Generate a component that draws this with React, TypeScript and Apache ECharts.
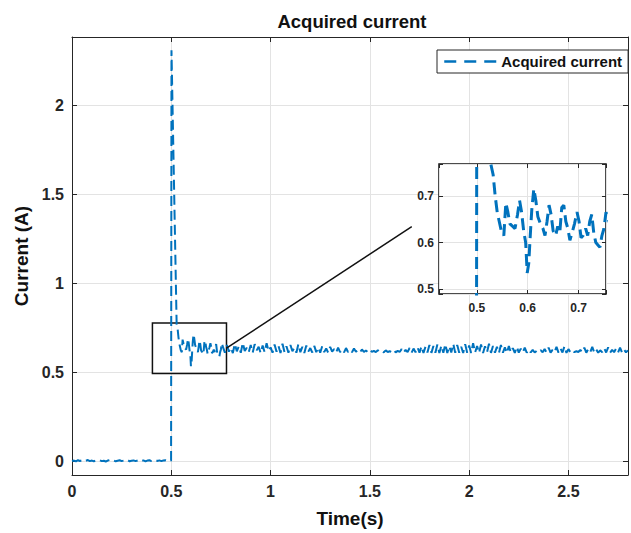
import React, { useEffect, useRef } from "react";
import * as echarts from "echarts";

// ---------------- data ----------------
const SAMPLE_STEP = 0.01;

// 0 s .. 0.49 s, sampled every 0.01 s
const preStepCurrent = [
  0.003, 0.006, 0.002, 0.008, 0.004, 0.007, 0.001, 0.005, 0.009, 0.003,
  0.006, 0.002, 0.007, 0.004, 0.008, 0.003, 0.005, 0.001, 0.006, 0.009,
  0.004, 0.007, 0.002, 0.005, 0.008, 0.003, 0.006, 0.004, 0.009, 0.002,
  0.005, 0.007, 0.003, 0.006, 0.01, 0.004, 0.007, 0.002, 0.006, 0.008,
  0.003, 0.005, 0.009, 0.004, 0.007, 0.003, 0.006, 0.008, 0.004, 0.006,
];

// the inrush spike
const stepTime = [0.499, 0.501];
const stepCurrent = [0.005, 2.31];

// transient (the part magnified in the inset)
const transientTime = [
  0.527, 0.532, 0.536, 0.54, 0.544, 0.548, 0.553, 0.557, 0.561, 0.565,
  0.57, 0.575, 0.58, 0.584, 0.588, 0.592, 0.596, 0.599, 0.602, 0.605,
  0.608, 0.612, 0.616, 0.62, 0.625, 0.63, 0.634, 0.638, 0.642, 0.646,
  0.65, 0.655, 0.659, 0.663, 0.667, 0.671, 0.675, 0.679, 0.683, 0.687,
  0.692, 0.697, 0.701, 0.705, 0.709, 0.714, 0.718, 0.722, 0.726, 0.73,
  0.734, 0.738, 0.742, 0.746, 0.75, 0.754,
];
const transientCurrent = [
  0.77, 0.745, 0.7, 0.665, 0.645, 0.625, 0.615, 0.685, 0.665, 0.64,
  0.635, 0.63, 0.66, 0.69, 0.665, 0.625, 0.6, 0.535, 0.555, 0.615,
  0.67, 0.715, 0.69, 0.655, 0.64, 0.63, 0.615, 0.645, 0.68, 0.66,
  0.625, 0.615, 0.635, 0.62, 0.675, 0.68, 0.645, 0.63, 0.605, 0.62,
  0.64, 0.665, 0.645, 0.61, 0.615, 0.63, 0.615, 0.645, 0.66, 0.62,
  0.6, 0.595, 0.59, 0.615, 0.63, 0.665,
];

// steady state ripple, 0.76 s .. 2.80 s, sampled every 0.01 s
const steadyStartTime = 0.76;
const steadyCurrent = [
  0.645, 0.612, 0.655, 0.618, 0.64, 0.61, 0.662, 0.62, 0.648, 0.612,
  0.668, 0.622, 0.64, 0.615, 0.655, 0.612, 0.66, 0.625, 0.645, 0.61,
  0.652, 0.615, 0.665, 0.62, 0.642, 0.612, 0.658, 0.618, 0.65, 0.61,
  0.662, 0.616, 0.648, 0.612, 0.655, 0.62, 0.64, 0.612, 0.66, 0.615,
  0.645, 0.61, 0.652, 0.618, 0.638, 0.613, 0.65, 0.615, 0.642, 0.612,
  0.648, 0.615, 0.636, 0.612, 0.645, 0.618, 0.632, 0.613, 0.64, 0.615,
  0.63, 0.614, 0.638, 0.616, 0.628, 0.615, 0.635, 0.617, 0.626, 0.614,
  0.63, 0.616, 0.624, 0.615, 0.628, 0.617, 0.622, 0.615, 0.626, 0.616,
  0.621, 0.614, 0.625, 0.616, 0.62, 0.615, 0.627, 0.614, 0.622, 0.616,
  0.632, 0.612, 0.628, 0.615, 0.638, 0.612, 0.635, 0.614, 0.642, 0.612,
  0.648, 0.61, 0.645, 0.613, 0.655, 0.611, 0.65, 0.612, 0.658, 0.61,
  0.652, 0.612, 0.66, 0.61, 0.648, 0.613, 0.662, 0.611, 0.655, 0.612,
  0.645, 0.61, 0.66, 0.612, 0.652, 0.61, 0.665, 0.613, 0.65, 0.611,
  0.658, 0.61, 0.648, 0.614, 0.662, 0.611, 0.65, 0.612, 0.645, 0.61,
  0.655, 0.612, 0.642, 0.61, 0.65, 0.613, 0.638, 0.611, 0.645, 0.612,
  0.635, 0.613, 0.64, 0.612, 0.63, 0.614, 0.628, 0.613, 0.622, 0.615,
  0.626, 0.614, 0.632, 0.613, 0.64, 0.612, 0.628, 0.615, 0.645, 0.612,
  0.636, 0.613, 0.648, 0.611, 0.632, 0.614, 0.625, 0.615, 0.62, 0.616,
  0.628, 0.614, 0.64, 0.612, 0.632, 0.615, 0.645, 0.613, 0.63, 0.612,
  0.625, 0.615, 0.638, 0.613, 0.642, 0.612, 0.628, 0.615, 0.635, 0.613,
  0.64, 0.612, 0.63, 0.614, 0.625,
];

const xTicks = [0, 0.5, 1, 1.5, 2, 2.5];
const yTicks = [0, 0.5, 1, 1.5, 2];
const insetXTicks = [0.5, 0.6, 0.7];
const insetYTicks = [0.5, 0.6, 0.7];

// zoom rectangle and the connector, in data coordinates of the main axes
const zoomBoxTime = [0.405, 0.778];
const zoomBoxCurrent = [0.495, 0.779];
const connectorTime = [0.778, 1.711];
const connectorCurrent = [0.637, 1.32];

// ---------------- chart ----------------
const FONT = '"Liberation Sans", Arial, Helvetica, sans-serif';
const TEXT = "#262626";
const BLUE = "#0072BD";
const GRIDLINE = "#e3e3e3";

function buildPoints(): [number, number][] {
  const pts: [number, number][] = [];
  preStepCurrent.forEach((v, i) => pts.push([+(i * SAMPLE_STEP).toFixed(3), v]));
  stepTime.forEach((t, i) => pts.push([t, stepCurrent[i]]));
  transientTime.forEach((t, i) => pts.push([t, transientCurrent[i]]));
  steadyCurrent.forEach((v, i) =>
    pts.push([+(steadyStartTime + i * SAMPLE_STEP).toFixed(3), v])
  );
  return pts;
}

const fmt = (ticks: number[]) => (v: number) =>
  ticks.some((t) => Math.abs(t - v) < 1e-6) ? String(+v.toFixed(3)) : "";

export default function App() {
  const ref = useRef<HTMLDivElement>(null);

  useEffect(() => {
    if (!ref.current) return;
    const chart = echarts.init(ref.current, undefined, { renderer: "svg" });
    const points = buildPoints();

    const mainX = { min: 0, max: 2.8 };
    const mainY = { min: -0.075, max: 2.385 };
    const insetX = { min: 0.4255, max: 0.754 };
    const insetY = { min: 0.49, max: 0.768 };

    const mirrorTick = { show: true, inside: true, length: 5, lineStyle: { color: TEXT } };

    chart.setOption({
      animation: false,
      backgroundColor: "#ffffff",
      textStyle: { fontFamily: FONT },
      graphic: [
        {
          type: "text",
          x: 352,
          y: 21,
          style: {
            text: "Acquired current",
            textAlign: "center",
            textVerticalAlign: "middle",
            verticalAlign: "middle",
            font: `bold 18.5px ${FONT}`,
            fill: "#111111",
          },
        },
      ],
      legend: {
        data: ["Acquired current"],
        left: 437,
        top: 50,
        padding: [4, 6, 4, 6],
        itemWidth: 52,
        itemHeight: 14,
        borderColor: TEXT,
        borderWidth: 1,
        borderRadius: 0,
        backgroundColor: "#ffffff",
        itemStyle: { opacity: 0 },
        lineStyle: { type: [12, 8], width: 2.5 },
        textStyle: { fontSize: 15, fontWeight: "bold", color: "#111111", fontFamily: FONT },
        z: 6,
      },
      grid: [
        { left: 72, top: 37, right: 1, bottom: 56, show: false },
        {
          left: 439,
          top: 164,
          width: 167,
          height: 130,
          show: true,
          backgroundColor: "#ffffff",
          borderColor: "#111111",
          borderWidth: 1.5,
          z: 3,
        },
      ],
      xAxis: [
        {
          type: "value",
          gridIndex: 0,
          ...mainX,
          interval: 0.5,
          name: "Time(s)",
          nameLocation: "middle",
          nameGap: 34,
          nameTextStyle: { fontSize: 19, fontWeight: "bold", color: "#111111", fontFamily: FONT },
          axisLine: { show: true, onZero: false, lineStyle: { color: TEXT, width: 1 } },
          axisTick: { show: true, inside: true, length: 5, lineStyle: { color: TEXT } },
          axisLabel: {
            margin: 8,
            fontSize: 16,
            fontWeight: "bold",
            color: TEXT,
            fontFamily: FONT,
            formatter: fmt(xTicks),
          },
          splitLine: { show: true, lineStyle: { color: GRIDLINE, width: 1 } },
        },
        {
          type: "value",
          gridIndex: 0,
          position: "top",
          ...mainX,
          interval: 0.5,
          axisLine: { show: true, onZero: false, lineStyle: { color: TEXT, width: 1 } },
          axisTick: mirrorTick,
          axisLabel: { show: false },
          splitLine: { show: false },
        },
        {
          type: "value",
          gridIndex: 1,
          ...insetX,
          splitNumber: 3,
          minInterval: 0.1,
          maxInterval: 0.1,
          z: 4,
          axisLine: { show: false },
          axisTick: { show: true, inside: true, length: 4, lineStyle: { color: TEXT } },
          axisLabel: {
            margin: 8,
            fontSize: 12,
            fontWeight: "bold",
            color: TEXT,
            fontFamily: FONT,
            formatter: fmt(insetXTicks),
          },
          splitLine: { show: true, lineStyle: { color: GRIDLINE, width: 1 } },
        },
        {
          type: "value",
          gridIndex: 1,
          position: "top",
          ...insetX,
          splitNumber: 3,
          minInterval: 0.1,
          maxInterval: 0.1,
          z: 4,
          axisLine: { show: false },
          axisTick: { show: true, inside: true, length: 4, lineStyle: { color: TEXT } },
          axisLabel: { show: false },
          splitLine: { show: false },
        },
      ],
      yAxis: [
        {
          type: "value",
          gridIndex: 0,
          ...mainY,
          splitNumber: 5,
          minInterval: 0.5,
          maxInterval: 0.5,
          name: "Current (A)",
          nameLocation: "middle",
          nameGap: 37,
          nameTextStyle: { fontSize: 19, fontWeight: "bold", color: "#111111", fontFamily: FONT },
          axisLine: { show: true, onZero: false, lineStyle: { color: TEXT, width: 1 } },
          axisTick: { show: true, inside: true, length: 5, lineStyle: { color: TEXT } },
          axisLabel: {
            margin: 8,
            fontSize: 16,
            fontWeight: "bold",
            color: TEXT,
            fontFamily: FONT,
            formatter: fmt(yTicks),
          },
          splitLine: { show: true, lineStyle: { color: GRIDLINE, width: 1 } },
        },
        {
          type: "value",
          gridIndex: 0,
          position: "right",
          ...mainY,
          splitNumber: 5,
          minInterval: 0.5,
          maxInterval: 0.5,
          axisLine: { show: true, onZero: false, lineStyle: { color: TEXT, width: 1 } },
          axisTick: mirrorTick,
          axisLabel: { show: false },
          splitLine: { show: false },
        },
        {
          type: "value",
          gridIndex: 1,
          ...insetY,
          splitNumber: 3,
          minInterval: 0.1,
          maxInterval: 0.1,
          z: 4,
          axisLine: { show: false },
          axisTick: { show: true, inside: true, length: 4, lineStyle: { color: TEXT } },
          axisLabel: {
            margin: 5,
            fontSize: 12,
            fontWeight: "bold",
            color: TEXT,
            fontFamily: FONT,
            formatter: fmt(insetYTicks),
          },
          splitLine: { show: true, lineStyle: { color: GRIDLINE, width: 1 } },
        },
        {
          type: "value",
          gridIndex: 1,
          position: "right",
          ...insetY,
          splitNumber: 3,
          minInterval: 0.1,
          maxInterval: 0.1,
          z: 4,
          axisLine: { show: false },
          axisTick: { show: true, inside: true, length: 4, lineStyle: { color: TEXT } },
          axisLabel: { show: false },
          splitLine: { show: false },
        },
      ],
      series: [
        {
          name: "Acquired current",
          type: "line",
          xAxisIndex: 0,
          yAxisIndex: 0,
          data: points,
          symbol: "none",
          showSymbol: false,
          clip: true,
          color: BLUE,
          lineStyle: { color: BLUE, width: 2, type: [10, 5] },
          emphasis: { disabled: true },
          z: 2,
          markArea: {
            silent: true,
            itemStyle: { color: "rgba(0,0,0,0)", borderColor: "#111111", borderWidth: 1.5 },
            label: { show: false },
            data: [
              [
                { xAxis: zoomBoxTime[0], yAxis: zoomBoxCurrent[0] },
                { xAxis: zoomBoxTime[1], yAxis: zoomBoxCurrent[1] },
              ],
            ],
          },
          markLine: {
            silent: true,
            symbol: ["none", "none"],
            label: { show: false },
            lineStyle: { color: "#111111", width: 1.5, type: "solid" },
            data: [
              [
                { coord: [connectorTime[0], connectorCurrent[0]] },
                { coord: [connectorTime[1], connectorCurrent[1]] },
              ],
            ],
          },
        },
        {
          name: "inset",
          type: "line",
          xAxisIndex: 2,
          yAxisIndex: 2,
          data: points,
          symbol: "none",
          showSymbol: false,
          clip: true,
          color: BLUE,
          lineStyle: { color: BLUE, width: 3, type: [12, 6] },
          emphasis: { disabled: true },
          z: 5,
        },
      ],
    });

    return () => chart.dispose();
  }, []);

  return (
    <div
      ref={ref}
      style={{ position: "absolute", left: 0, top: 0, width: 631, height: 533, background: "#fff" }}
    />
  );
}
